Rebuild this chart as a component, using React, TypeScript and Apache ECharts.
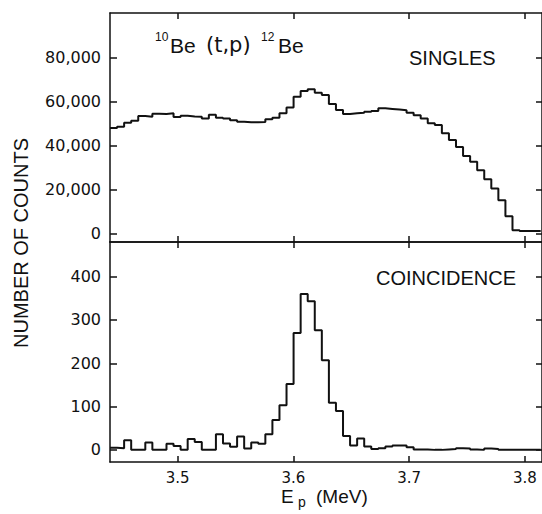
import React, { useEffect, useRef } from "react";
import * as echarts from "echarts";

// Histogram binning (MeV)
const BIN_START = 3.4415;
const BIN_WIDTH = 0.0061;

// Axis ranges / tick labels
const X_MIN = 3.4415;
const X_MAX = 3.8147;
const X_TICKS = [3.5, 3.6, 3.7, 3.8];
const SINGLES_TICKS = [0, 20000, 40000, 60000, 80000];
const COINC_TICKS = [0, 100, 200, 300, 400];

// Counts per bin
const singles = [
  48000, 48600, 50400, 51300, 53500, 53200, 54500, 54400, 54700, 53000,
  53600, 53300, 53200, 52300, 54100, 52700, 52300, 51600, 50900, 50600,
  50600, 50700, 52000, 52700, 54700, 57400, 62300, 64900, 65700, 64100,
  63100, 59000, 56200, 54400, 54700, 55000, 55400, 55800, 57000, 56700,
  56400, 56100, 55000, 53800, 52400, 50200, 49400, 45600, 42500, 39400,
  35200, 32600, 28800, 24700, 20400, 15100, 7800, 1400, 1000, 1000, 1000,
];

const coincidence = [
  5, 4, 22, 0, 0, 17, 0, 0, 14, 9,
  0, 25, 18, 0, 0, 36, 15, 7, 31, 3,
  17, 14, 36, 69, 103, 152, 270, 360, 343, 276,
  207, 109, 90, 32, 10, 26, 8, 2, 4, 8,
  10, 10, 6, 1, 1, 0, 0, 1, 2, 4,
  3, 1, 0, 3, 2, 0, 0, 0, 0, 0, 0,
];

function histPoints(vals: number[]) {
  const pts: number[][] = vals.map((v, i) => [BIN_START + i * BIN_WIDTH, v]);
  pts.push([BIN_START + vals.length * BIN_WIDTH, vals[vals.length - 1]]);
  return pts;
}

const INK = "#111";
const NUM_FONT = "DejaVu Sans";
const WORD_FONT = "Liberation Sans";

export default function App() {
  const ref = useRef<HTMLDivElement>(null);

  useEffect(() => {
    if (!ref.current) return;
    const chart = echarts.init(ref.current, null, { renderer: "svg" });

    const line = { show: true, onZero: false, lineStyle: { color: INK, width: 1.5 } };
    const xAxisBase = (gridIndex: number, position: string, labels: boolean) => ({
      type: "value",
      gridIndex,
      position,
      min: X_MIN,
      max: X_MAX,
      axisLine: line,
      splitLine: { show: false },
      axisTick: {
        show: true,
        inside: true,
        length: 6,
        customValues: X_TICKS,
        lineStyle: { color: INK, width: 1.5 },
      },
      axisLabel: {
        show: labels,
        customValues: X_TICKS,
        formatter: (v: number) => v.toFixed(1),
        color: INK,
        fontFamily: NUM_FONT,
        fontSize: 15,
        margin: 8,
      },
    });
    const yAxisBase = (
      gridIndex: number,
      position: string,
      min: number,
      max: number,
      ticks: number[],
      labels: boolean
    ) => ({
      type: "value",
      gridIndex,
      position,
      min,
      max,
      axisLine: line,
      splitLine: { show: false },
      axisTick: {
        show: true,
        inside: true,
        length: position === "left" ? 7 : 6,
        customValues: ticks,
        lineStyle: { color: INK, width: 1.5 },
      },
      axisLabel: {
        show: labels,
        customValues: ticks,
        formatter: (v: number) => v.toLocaleString("en-US"),
        color: INK,
        fontFamily: NUM_FONT,
        fontSize: 16,
        margin: 9,
      },
    });

    chart.setOption({
      animation: false,
      backgroundColor: "#fff",
      grid: [
        { left: 110, top: 13, width: 434, height: 229 },
        { left: 110, top: 242, width: 434, height: 220 },
      ],
      xAxis: [
        xAxisBase(0, "bottom", false),
        xAxisBase(0, "top", false),
        xAxisBase(1, "bottom", true),
        xAxisBase(1, "top", false),
      ],
      yAxis: [
        yAxisBase(0, "left", -3970, 100460, SINGLES_TICKS, true),
        yAxisBase(0, "right", -3970, 100460, SINGLES_TICKS, false),
        yAxisBase(1, "left", -28, 480, COINC_TICKS, true),
        yAxisBase(1, "right", -28, 480, COINC_TICKS, false),
      ],
      series: [
        {
          type: "line",
          name: "Singles",
          xAxisIndex: 0,
          yAxisIndex: 0,
          step: "end",
          showSymbol: false,
          data: histPoints(singles),
          lineStyle: { color: INK, width: 2 },
        },
        {
          type: "line",
          name: "Coincidence",
          xAxisIndex: 2,
          yAxisIndex: 2,
          step: "end",
          showSymbol: false,
          data: histPoints(coincidence),
          lineStyle: { color: INK, width: 2 },
        },
      ],
      graphic: [
        {
          type: "text",
          x: 21,
          y: 243,
          rotation: Math.PI / 2,
          style: {
            text: "NUMBER OF COUNTS",
            fill: INK,
            font: `20px "${WORD_FONT}"`,
            textAlign: "center",
            textVerticalAlign: "middle",
          },
        },
        {
          type: "text",
          x: 155,
          y: 37,
          style: { text: "10", fill: INK, font: `12px "${WORD_FONT}"`, textVerticalAlign: "middle" },
        },
        {
          type: "text",
          x: 170,
          y: 45,
          style: { text: "Be", fill: INK, font: `21px "${WORD_FONT}"`, textVerticalAlign: "middle" },
        },
        {
          type: "text",
          x: 206,
          y: 45,
          style: { text: "(t,p)", fill: INK, font: `21px "${NUM_FONT}"`, textVerticalAlign: "middle" },
        },
        {
          type: "text",
          x: 261,
          y: 37,
          style: { text: "12", fill: INK, font: `12px "${WORD_FONT}"`, textVerticalAlign: "middle" },
        },
        {
          type: "text",
          x: 278,
          y: 45,
          style: { text: "Be", fill: INK, font: `21px "${WORD_FONT}"`, textVerticalAlign: "middle" },
        },
        {
          type: "text",
          x: 409,
          y: 58,
          style: { text: "SINGLES", fill: INK, font: `20px "${WORD_FONT}"`, textVerticalAlign: "middle" },
        },
        {
          type: "text",
          x: 376,
          y: 278,
          style: { text: "COINCIDENCE", fill: INK, font: `20px "${WORD_FONT}"`, textVerticalAlign: "middle" },
        },
        {
          type: "text",
          x: 281,
          y: 496,
          style: { text: "E", fill: INK, font: `19px "${WORD_FONT}"`, textVerticalAlign: "middle" },
        },
        {
          type: "text",
          x: 298,
          y: 502,
          style: { text: "p", fill: INK, font: `14px "${WORD_FONT}"`, textVerticalAlign: "middle" },
        },
        {
          type: "text",
          x: 316,
          y: 496,
          style: { text: "(MeV)", fill: INK, font: `19px "${WORD_FONT}"`, textVerticalAlign: "middle" },
        },
      ],
    });

    return () => chart.dispose();
  }, []);

  return (
    <div
      ref={ref}
      style={{ position: "fixed", left: 0, top: 0, width: 542, height: 514 }}
    />
  );
}
